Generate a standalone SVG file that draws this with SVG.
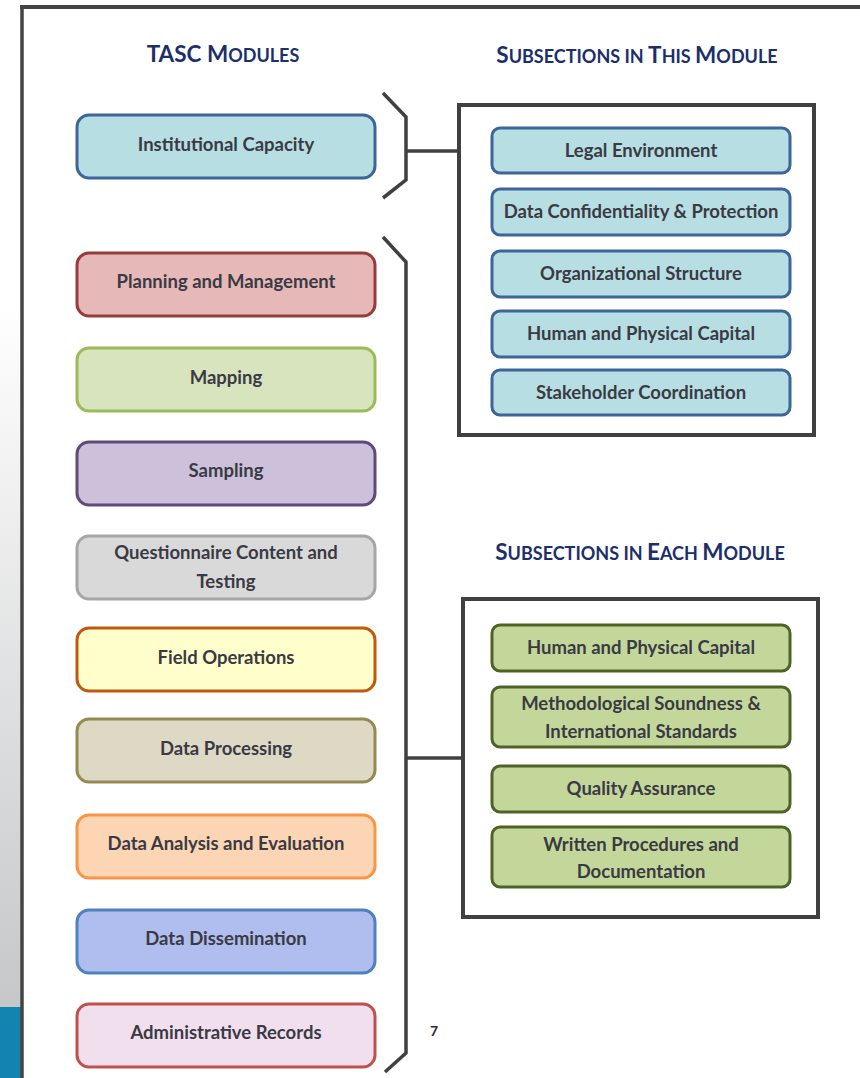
<svg xmlns="http://www.w3.org/2000/svg" width="860" height="1078" viewBox="0 0 860 1078">
<defs>
<linearGradient id="side" x1="0" y1="0" x2="0" y2="1">
<stop offset="0" stop-color="#ffffff"/>
<stop offset="0.3" stop-color="#ffffff"/>
<stop offset="1" stop-color="#c6c7c9"/>
</linearGradient>
<style>
.t{font-family:Lato,"Liberation Sans",Arial,sans-serif;font-weight:bold;font-size:18.5px;fill:#3a3a44;text-anchor:middle}
.h{font-family:Lato,"Liberation Sans",Arial,sans-serif;font-weight:bold;font-size:22.5px;fill:#1c2f6b;text-anchor:middle}
.sc{font-size:18px}
.box{stroke-width:3}
.blue{fill:#b7dee2;stroke:#3d659a;stroke-width:3}
.green{fill:#c4d79b;stroke:#4f6228;stroke-width:3}
.frame{fill:none;stroke:#404040;stroke-width:4}
.con{fill:none;stroke:#404040;stroke-width:3.5}
</style>
</defs>
<rect width="860" height="1078" fill="#ffffff"/>
<rect x="0" y="0" width="21" height="1007" fill="url(#side)"/>
<rect x="0" y="1007" width="21" height="71" fill="#1383b0"/>
<line x1="20" y1="7" x2="860" y2="7" stroke="#444" stroke-width="4"/>
<line x1="22" y1="5" x2="22" y2="1078" stroke="#444" stroke-width="3.5"/>

<g id="headers">
<text class="h" x="223" y="62">TASC M<tspan class="sc">ODULES</tspan></text>
<text class="h" x="637" y="63">S<tspan class="sc">UBSECTIONS IN </tspan>T<tspan class="sc">HIS </tspan>M<tspan class="sc">ODULE</tspan></text>
<text class="h" x="640" y="560">S<tspan class="sc">UBSECTIONS IN </tspan>E<tspan class="sc">ACH </tspan>M<tspan class="sc">ODULE</tspan></text>
</g>

<g id="connectors">
<polyline class="con" points="383,93 406,117 406,180 383,198"/>
<line class="con" x1="406" y1="151" x2="459" y2="151"/>
<polyline class="con" points="383,237 406,262 406,1053 385,1072"/>
<line class="con" x1="406" y1="758" x2="463" y2="758"/>
</g>

<g id="m-institutional"><rect class="box" x="77" y="115" width="298" height="63" rx="12" fill="#b7dee2" stroke="#3d659a"/><text class="t" x="226" y="151">Institutional Capacity</text></g>
<g id="m-planning"><rect class="box" x="77" y="253" width="298" height="63" rx="12" fill="#e6b8b7" stroke="#963c3a"/><text class="t" x="226" y="288">Planning and Management</text></g>
<g id="m-mapping"><rect class="box" x="77" y="348" width="298" height="63" rx="12" fill="#d7e4bd" stroke="#9bbb59"/><text class="t" x="226" y="384">Mapping</text></g>
<g id="m-sampling"><rect class="box" x="77" y="442" width="298" height="63" rx="12" fill="#ccc0da" stroke="#604a7b"/><text class="t" x="226" y="477">Sampling</text></g>
<g id="m-questionnaire"><rect class="box" x="77" y="536" width="298" height="63" rx="12" fill="#d9d9d9" stroke="#a6a6a6"/><text class="t" x="226" y="559">Questionnaire Content and</text><text class="t" x="226" y="588">Testing</text></g>
<g id="m-field"><rect class="box" x="77" y="628" width="298" height="63" rx="12" fill="#ffffcc" stroke="#c0580f"/><text class="t" x="226" y="664">Field Operations</text></g>
<g id="m-processing"><rect class="box" x="77" y="719" width="298" height="63" rx="12" fill="#ddd9c4" stroke="#948a54"/><text class="t" x="226" y="755">Data Processing</text></g>
<g id="m-analysis"><rect class="box" x="77" y="815" width="298" height="63" rx="12" fill="#fcd5b4" stroke="#f79646"/><text class="t" x="226" y="850">Data Analysis and Evaluation</text></g>
<g id="m-dissemination"><rect class="box" x="77" y="910" width="298" height="63" rx="12" fill="#afbeee" stroke="#4f81bd"/><text class="t" x="226" y="945">Data Dissemination</text></g>
<g id="m-admin"><rect class="box" x="77" y="1004" width="298" height="63" rx="12" fill="#f2dfee" stroke="#c0504d"/><text class="t" x="226" y="1039">Administrative Records</text></g>

<g id="this-module">
<rect class="frame" x="459" y="105" width="355" height="330"/>
</g>
<g id="s-legal"><rect class="blue" x="492" y="128" width="298" height="45" rx="8"/><text class="t" x="641" y="157">Legal Environment</text></g>
<g id="s-confidentiality"><rect class="blue" x="492" y="189" width="298" height="46" rx="8"/><text class="t" x="641" y="218">Data Confidentiality &amp; Protection</text></g>
<g id="s-organizational"><rect class="blue" x="492" y="251" width="298" height="46" rx="8"/><text class="t" x="641" y="280">Organizational Structure</text></g>
<g id="s-human1"><rect class="blue" x="492" y="311" width="298" height="46" rx="8"/><text class="t" x="641" y="340">Human and Physical Capital</text></g>
<g id="s-stakeholder"><rect class="blue" x="492" y="370" width="298" height="45" rx="8"/><text class="t" x="641" y="399">Stakeholder Coordination</text></g>

<g id="each-module">
<rect class="frame" x="463" y="599" width="355" height="318"/>
</g>
<g id="e-human"><rect class="green" x="492" y="625" width="298" height="46" rx="8"/><text class="t" x="641" y="654">Human and Physical Capital</text></g>
<g id="e-method"><rect class="green" x="492" y="687" width="298" height="60" rx="8"/><text class="t" x="641" y="710">Methodological Soundness &amp;</text><text class="t" x="641" y="738">International Standards</text></g>
<g id="e-quality"><rect class="green" x="492" y="766" width="298" height="46" rx="8"/><text class="t" x="641" y="795">Quality Assurance</text></g>
<g id="e-written"><rect class="green" x="492" y="827" width="298" height="60" rx="8"/><text class="t" x="641" y="851">Written Procedures and</text><text class="t" x="641" y="878">Documentation</text></g>

<text x="434" y="1036" font-family="Lato,'Liberation Sans',sans-serif" font-weight="bold" font-size="14" fill="#2a2a3a" text-anchor="middle">7</text>
</svg>
